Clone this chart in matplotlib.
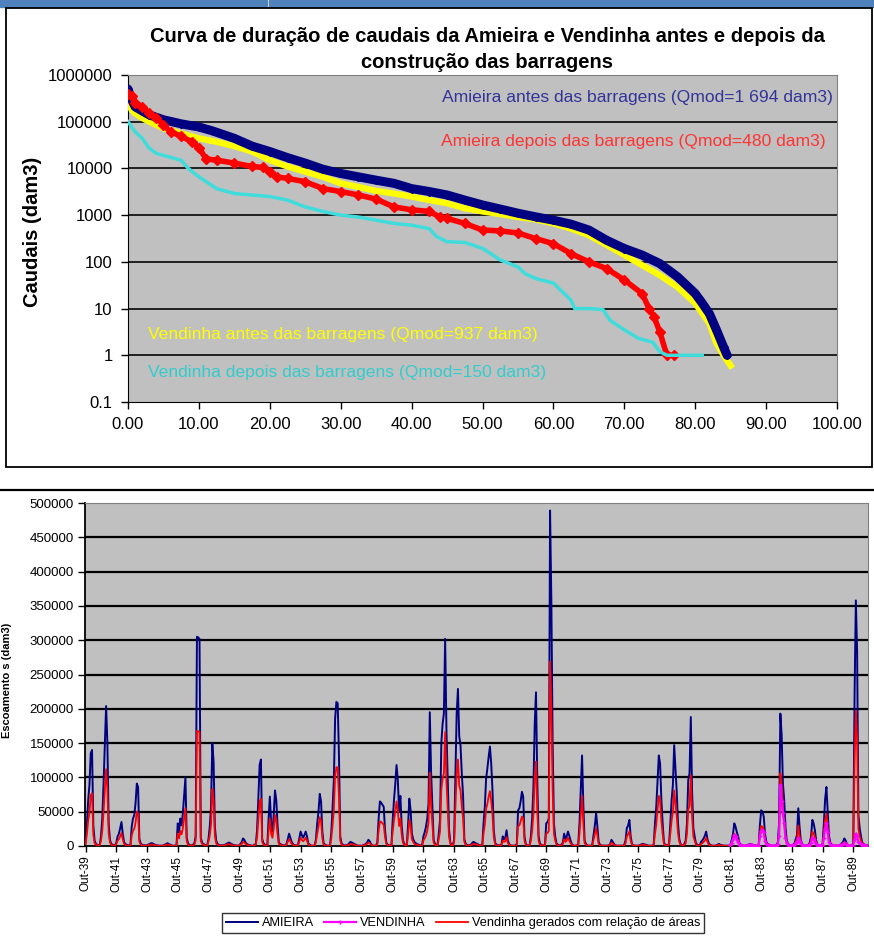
import numpy as np
import matplotlib.pyplot as plt
from matplotlib.patches import Rectangle
from matplotlib.lines import Line2D

plt.rcParams['font.family'] = ['Liberation Sans', 'DejaVu Sans']

W, H = 874, 936

# ---- curva de duracao (x em % do tempo, caudais em dam3) ----
amieira_antes_x = [0, 0.5, 1, 2, 3, 5, 7.5, 10, 12, 15, 17.5, 20, 22.5, 25, 27.5, 30, 32.5, 35, 37.5, 40,
                   42.5, 45, 47.5, 50, 52.5, 55, 57.5, 60, 62.5, 65, 67.5, 70, 72.5, 75, 77.5, 80, 81, 82, 83, 84, 84.5]
amieira_antes_q = [500000, 300000, 210000, 170000, 140000, 110000, 90000, 77000, 63000, 44000, 30000, 23000,
                   17000, 13000, 9600, 7800, 6600, 5600, 4800, 3700, 3200, 2700, 2100, 1650, 1350, 1100, 920,
                   780, 640, 480, 290, 193, 140, 92, 48, 21, 13, 7.8, 3.5, 1.5, 1.0]

amieira_depois_x = [0, 0.5, 1, 2, 3, 4, 5, 6, 7.5, 9, 10, 11, 12.5, 15, 17.5, 19, 20, 21, 22.5, 25, 27.5, 30,
                    32.5, 35, 37.5, 40, 42.5, 44, 45, 47.5, 50, 52.5, 55, 57.5, 60, 62.5, 65, 67.5, 70, 72.5,
                    73.5, 74.2, 75, 76, 77]
amieira_depois_q = [400000, 350000, 250000, 210000, 150000, 120000, 85000, 61000, 49000, 37000, 28000, 16000,
                    15000, 13000, 11000, 10500, 8500, 6600, 6100, 5200, 3700, 3200, 2700, 2200, 1500, 1300,
                    1200, 910, 850, 665, 480, 460, 415, 315, 245, 150, 100, 72, 41, 21, 10, 6.6, 3.2, 1, 1]

vendinha_antes_x = [0, 0.5, 1, 2, 3, 5, 7.5, 10, 12.5, 15, 17.5, 20, 22.5, 25, 27.5, 30, 32.5, 35, 37.5, 40,
                    42.5, 45, 47.5, 50, 52.5, 55, 57.5, 60, 62.5, 65, 67.5, 70, 72.5, 75, 77.5, 80, 82, 83, 84, 85]
vendinha_antes_q = [250000, 180000, 150000, 120000, 100000, 72000, 56000, 44000, 37000, 30000, 23000, 15000,
                    11000, 8500, 6600, 4800, 4000, 3300, 2900, 2500, 2100, 1800, 1400, 1200, 1050, 910, 810,
                    665, 515, 370, 230, 140, 85, 52, 29, 13, 4.8, 1.8, 1.0, 0.6]

vendinha_depois_x = [0, 1, 2, 3, 4, 5, 7.5, 8.5, 10, 12.5, 15, 17.5, 20, 22.5, 25, 27.5, 30, 32.5, 35, 37.5,
                     40, 42.5, 43.5, 45, 47.5, 50, 52.5, 55, 56, 57.5, 60, 61, 62.5, 63, 65, 67, 68, 70, 72,
                     74, 75, 76, 78, 80, 81]
vendinha_depois_q = [100000, 61000, 44000, 27000, 21000, 19000, 15000, 10000, 6600, 3700, 2900, 2700, 2500,
                     2100, 1500, 1200, 1000, 910, 780, 665, 610, 515, 350, 270, 260, 195, 110, 78, 56, 44, 35,
                     25, 15, 10, 10, 9.5, 5.6, 3.5, 2.3, 1.9, 1.2, 1, 1, 1, 1]

# ---- escoamentos mensais (mil dam3), ano hidrologico Out..Set, 1939/40 a 1989/90 ----
ano_inicial = 1939
amieira = [
    [5, 33, 67, 89, 135, 140, 30, 8, 3, 2, 1, 1],
    [14, 40, 91, 147, 204, 150, 33, 9, 3, 2, 1, 1],
    [5, 14, 18, 26, 35, 18, 6, 3, 2, 1, 1, 1],
    [28, 40, 45, 62, 91, 86, 10, 4, 2, 1, 1, 1],
    [1, 2, 3, 4, 4, 3, 2, 1, 1, 0.5, 0.5, 0.5],
    [0.5, 1, 2, 3, 4, 3, 2, 1, 0.5, 0.5, 0.5, 0.5],
    [33, 20, 40, 30, 48, 74, 100, 12, 4, 2, 1, 1],
    [2, 4, 14, 305, 304, 302, 12, 5, 3, 2, 1, 1],
    [10, 28, 57, 150, 123, 28, 8, 3, 2, 1, 1, 1],
    [1, 2, 3, 4, 5, 4, 3, 2, 1, 1, 0.5, 0.5],
    [1, 3, 6, 11, 9, 5, 3, 2, 1, 1, 0.5, 0.5],
    [2, 3, 23, 72, 118, 126, 10, 4, 2, 1, 1, 40],
    [72, 33, 21, 45, 81, 67, 30, 5, 3, 2, 1, 1],
    [1, 3, 10, 18, 12, 6, 3, 1, 1, 0.5, 2, 11],
    [21, 16, 12, 16, 21, 14, 4, 2, 1, 0.5, 0.5, 0.5],
    [10, 33, 50, 76, 65, 21, 4, 2, 1, 0.5, 0.5, 0.5],
    [20, 55, 96, 186, 210, 208, 132, 14, 4, 2, 1, 1],
    [1, 2, 4, 6, 5, 4, 3, 2, 1, 0.5, 0.5, 0.5],
    [0.5, 1, 2, 3, 5, 9, 7, 3, 1, 0.5, 0.5, 0.5],
    [5, 40, 65, 63, 60, 57, 23, 5, 2, 1, 1, 0.5],
    [38, 67, 90, 118, 96, 52, 73, 30, 9, 3, 2, 1],
    [30, 69, 52, 18, 10, 6, 4, 3, 2, 1, 1, 1],
    [14, 20, 28, 40, 62, 195, 108, 57, 9, 3, 2, 1],
    [18, 38, 150, 178, 193, 302, 170, 96, 25, 5, 2, 1],
    [9, 103, 193, 229, 160, 147, 106, 74, 10, 3, 2, 1],
    [1, 2, 4, 6, 5, 4, 3, 2, 1, 1, 0.5, 33],
    [57, 98, 113, 130, 145, 120, 81, 23, 5, 2, 1, 1],
    [1, 2, 14, 10, 12, 23, 8, 3, 1, 0.5, 0.5, 0.5],
    [1, 3, 52, 55, 65, 79, 72, 14, 3, 1, 0.5, 0.5],
    [14, 40, 86, 178, 224, 96, 15, 4, 2, 1, 1, 1],
    [33, 35, 40, 489, 358, 150, 33, 14, 4, 2, 1, 1],
    [2, 5, 18, 10, 14, 21, 15, 8, 3, 1, 0.5, 0.5],
    [1, 2, 33, 81, 132, 60, 8, 3, 1, 0.5, 0.5, 0.5],
    [2, 16, 30, 48, 28, 6, 2, 1, 0.5, 0.5, 0.5, 0.5],
    [0.5, 1, 3, 9, 6, 3, 1, 0.5, 0.5, 0.5, 0.5, 0.5],
    [0.5, 2, 8, 26, 30, 38, 14, 3, 1, 0.5, 0.5, 0.5],
    [0.5, 1, 2, 3, 3, 2, 2, 1, 0.5, 0.5, 0.5, 0.5],
    [2, 33, 57, 96, 132, 120, 67, 33, 5, 2, 1, 1],
    [3, 33, 67, 89, 147, 113, 79, 33, 10, 3, 1, 1],
    [3, 8, 33, 96, 106, 188, 79, 26, 14, 4, 2, 1],
    [1, 6, 8, 11, 15, 21, 10, 4, 2, 1, 0.5, 0.5],
    [0.5, 1, 2, 3, 2, 1, 1, 0.5, 0.5, 0.5, 0.5, 0.5],
    [2, 9, 18, 33, 28, 20, 14, 4, 2, 1, 0.5, 0.5],
    [0.5, 1, 2, 3, 3, 2, 1, 1, 0.5, 0.5, 0.5, 30],
    [52, 50, 43, 18, 6, 3, 2, 1, 0.5, 0.5, 0.5, 0.5],
    [2, 5, 33, 193, 162, 91, 67, 28, 8, 3, 1, 1],
    [1, 2, 4, 10, 16, 55, 28, 8, 3, 1, 0.5, 0.5],
    [1, 2, 5, 14, 38, 33, 23, 8, 2, 1, 0.5, 0.5],
    [3, 33, 69, 86, 50, 15, 5, 2, 1, 0.5, 0.5, 0.5],
    [0.5, 1, 2, 4, 6, 11, 8, 3, 1, 0.5, 0.5, 0.5],
    [5, 220, 358, 283, 45, 26, 14, 5, 3, 2, 1, 1],
]

vendinha_gerados = [
    [3, 18, 37, 49, 74, 77, 17, 4, 2, 1, 0.5, 0.5],
    [8, 22, 50, 81, 112, 83, 18, 5, 2, 1, 0.5, 0.5],
    [3, 8, 10, 14, 19, 10, 3, 2, 1, 0.5, 0.5, 0.5],
    [15, 22, 25, 34, 50, 47, 6, 2, 1, 0.5, 0.5, 0.5],
    [0.5, 1, 2, 2, 2, 2, 1, 0.5, 0.5, 0.3, 0.3, 0.3],
    [0.3, 0.5, 1, 2, 2, 2, 1, 0.5, 0.3, 0.3, 0.3, 0.3],
    [18, 11, 22, 17, 26, 41, 55, 7, 2, 1, 0.5, 0.5],
    [1, 2, 8, 168, 167, 166, 7, 3, 2, 1, 0.5, 0.5],
    [6, 15, 31, 83, 68, 15, 4, 2, 1, 0.5, 0.5, 0.5],
    [0.5, 1, 2, 2, 3, 2, 2, 1, 0.5, 0.5, 0.3, 0.3],
    [0.5, 2, 3, 6, 5, 3, 2, 1, 0.5, 0.5, 0.3, 0.3],
    [1, 2, 13, 40, 65, 69, 6, 2, 1, 0.5, 0.5, 22],
    [40, 18, 12, 25, 45, 37, 17, 3, 2, 1, 0.5, 0.5],
    [0.5, 2, 6, 10, 7, 3, 2, 0.5, 0.5, 0.3, 1, 6],
    [12, 9, 7, 9, 12, 8, 2, 1, 0.5, 0.3, 0.3, 0.3],
    [6, 18, 28, 42, 36, 12, 2, 1, 0.5, 0.3, 0.3, 0.3],
    [11, 30, 53, 102, 115, 114, 73, 8, 2, 1, 0.5, 0.5],
    [0.5, 1, 2, 3, 3, 2, 2, 1, 0.5, 0.3, 0.3, 0.3],
    [0.3, 0.5, 1, 2, 3, 5, 4, 2, 0.5, 0.3, 0.3, 0.3],
    [3, 22, 36, 35, 33, 31, 13, 3, 1, 0.5, 0.5, 0.3],
    [21, 37, 50, 65, 53, 29, 40, 17, 5, 2, 1, 0.5],
    [17, 38, 29, 10, 6, 3, 2, 2, 1, 0.5, 0.5, 0.5],
    [8, 11, 15, 22, 34, 107, 59, 31, 5, 2, 1, 0.5],
    [10, 21, 83, 98, 106, 166, 94, 53, 14, 3, 1, 0.5],
    [5, 57, 106, 126, 88, 81, 58, 41, 6, 2, 1, 0.5],
    [0.5, 1, 2, 3, 3, 2, 2, 1, 0.5, 0.5, 0.3, 18],
    [31, 54, 62, 72, 80, 66, 45, 13, 3, 1, 0.5, 0.5],
    [0.5, 1, 8, 6, 7, 13, 4, 2, 0.5, 0.3, 0.3, 0.3],
    [0.5, 2, 29, 30, 36, 43, 40, 8, 2, 0.5, 0.3, 0.3],
    [8, 22, 47, 98, 123, 53, 8, 2, 1, 0.5, 0.5, 0.5],
    [18, 19, 22, 269, 197, 83, 18, 8, 2, 1, 0.5, 0.5],
    [1, 3, 10, 6, 8, 12, 8, 4, 2, 0.5, 0.3, 0.3],
    [0.5, 1, 18, 45, 73, 33, 4, 2, 0.5, 0.3, 0.3, 0.3],
    [1, 9, 17, 26, 15, 3, 1, 0.5, 0.3, 0.3, 0.3, 0.3],
    [0.3, 0.5, 2, 5, 3, 2, 0.5, 0.3, 0.3, 0.3, 0.3, 0.3],
    [0.3, 1, 4, 14, 17, 21, 8, 2, 0.5, 0.3, 0.3, 0.3],
    [0.3, 0.5, 1, 2, 2, 1, 1, 0.5, 0.3, 0.3, 0.3, 0.3],
    [1, 18, 31, 53, 73, 66, 37, 18, 3, 1, 0.5, 0.5],
    [2, 18, 37, 49, 81, 62, 43, 18, 6, 2, 0.5, 0.5],
    [2, 4, 18, 53, 58, 103, 43, 14, 8, 2, 1, 0.5],
    [0.5, 3, 4, 6, 8, 12, 6, 2, 1, 0.5, 0.3, 0.3],
    [0.3, 0.5, 1, 2, 1, 0.5, 0.5, 0.3, 0.3, 0.3, 0.3, 0.3],
    [1, 5, 10, 18, 15, 11, 8, 2, 1, 0.5, 0.3, 0.3],
    [0.3, 0.5, 1, 2, 2, 1, 0.5, 0.5, 0.3, 0.3, 0.3, 17],
    [29, 28, 24, 10, 3, 2, 1, 0.5, 0.3, 0.3, 0.3, 0.3],
    [1, 3, 18, 106, 89, 50, 37, 15, 4, 2, 0.5, 0.5],
    [0.5, 1, 2, 6, 9, 30, 15, 4, 2, 0.5, 0.3, 0.3],
    [0.5, 1, 3, 8, 21, 18, 13, 4, 1, 0.5, 0.3, 0.3],
    [2, 18, 38, 47, 28, 8, 3, 1, 0.5, 0.3, 0.3, 0.3],
    [0.3, 0.5, 1, 2, 3, 6, 4, 2, 0.5, 0.3, 0.3, 0.3],
    [3, 121, 197, 156, 25, 14, 8, 3, 2, 1, 0.5, 0.5],
]

# registos observados na Vendinha, a partir de Out-81
vendinha_inicio = 1981
vendinha_obs = [
    [1, 5, 10, 16, 14, 9, 6, 2, 1, 0.5, 0.3, 0.3],
    [0.3, 0.5, 1, 2, 2, 1, 0.5, 0.5, 0.3, 0.3, 0.3, 14],
    [22, 24, 20, 8, 3, 2, 1, 0.5, 0.3, 0.3, 0.3, 0.3],
    [1, 3, 15, 89, 65, 48, 33, 12, 4, 2, 0.5, 0.5],
    [0.5, 1, 2, 4, 6, 12, 8, 3, 1, 0.5, 0.3, 0.3],
    [0.5, 1, 2, 5, 12, 10, 6, 3, 1, 0.5, 0.3, 0.3],
    [1, 12, 25, 33, 20, 6, 2, 1, 0.5, 0.3, 0.3, 0.3],
    [0.3, 0.5, 1, 2, 3, 4, 3, 1, 0.5, 0.3, 0.3, 0.3],
    [2, 10, 18, 14, 6, 4, 3, 2, 1, 0.5, 0.5, 0.5],
]

rotulos_anos = [1939, 1941, 1943, 1945, 1947, 1949, 1951, 1953, 1955, 1957, 1959, 1961, 1963,
                1965, 1967, 1969, 1971, 1973, 1975, 1977, 1979, 1981, 1983, 1985, 1987, 1989]


def fx(x):
    return x / W


def fy(y):
    return 1 - y / H


fig = plt.figure(figsize=(W / 100, H / 100), dpi=100)
fig.patch.set_facecolor('white')

# moldura / barra azul do documento
fig.add_artist(Rectangle((0, fy(7)), fx(267), 7 / H, color='#4f81bd', transform=fig.transFigure))
fig.add_artist(Rectangle((fx(269), fy(7)), fx(874 - 269), 7 / H, color='#4f81bd', transform=fig.transFigure))
fig.add_artist(Rectangle((fx(6), fy(467)), fx(866), (467 - 8) / H, fill=False, ec='black', lw=1.3,
                         transform=fig.transFigure))
fig.add_artist(Line2D([0, 1], [fy(490), fy(490)], color='black', lw=1.6, transform=fig.transFigure))

# ---------------- grafico de cima ----------------
ax1 = fig.add_axes([fx(128), fy(402), (837 - 128) / W, (402 - 75) / H])
ax1.set_facecolor('#c0c0c0')
ax1.set_yscale('log')
ax1.set_xlim(0, 100)
ax1.set_ylim(0.1, 1e6)
decadas = [0.1, 1, 10, 100, 1000, 10000, 100000, 1000000]
ax1.set_yticks(decadas)
ax1.set_yticklabels(['0.1', '1', '10', '100', '1000', '10000', '100000', '1000000'])
ax1.minorticks_off()
ax1.set_xticks(range(0, 101, 10))
ax1.set_xticklabels(['%.2f' % v for v in range(0, 101, 10)])
ax1.tick_params(labelsize=12, length=5, width=1, direction='out', pad=6)
for d in decadas[1:-1]:
    ax1.axhline(d, color='#202020', lw=1.4, zorder=1)
for s in ['top', 'right']:
    ax1.spines[s].set_color('#808080')
for s in ['left', 'bottom']:
    ax1.spines[s].set_color('black')

ax1.plot(vendinha_antes_x, vendinha_antes_q, color='#ffff00', lw=4.5, zorder=3,
         solid_joinstyle='round')
ax1.plot(amieira_antes_x, amieira_antes_q, color='#000080', lw=6.5, marker='D', ms=4.5, zorder=4,
         solid_joinstyle='round', solid_capstyle='round')
ax1.plot(amieira_depois_x, amieira_depois_q, color='#ff0000', lw=4, marker='D', ms=5, zorder=5,
         solid_joinstyle='round')
ax1.plot(vendinha_depois_x, vendinha_depois_q, color='#40dcdc', lw=2.5, zorder=5)

ax1.text(0.994, 0.93, 'Amieira antes das barragens (Qmod=1 694 dam3)', color='#333399', fontsize=12.6,
         ha='right', va='center', transform=ax1.transAxes)
ax1.text(0.984, 0.798, 'Amieira depois das barragens (Qmod=480 dam3)', color='#ff3333', fontsize=12.6,
         ha='right', va='center', transform=ax1.transAxes)
ax1.text(0.028, 0.205, 'Vendinha antes das barragens (Qmod=937 dam3)', color='#ffff00', fontsize=12.6,
         ha='left', va='center', transform=ax1.transAxes)
ax1.text(0.028, 0.089, 'Vendinha depois das barragens (Qmod=150 dam3)', color='#33cccc', fontsize=12.6,
         ha='left', va='center', transform=ax1.transAxes)

fig.text(fx(487), fy(37), 'Curva de duração de caudais da Amieira e Vendinha antes e depois da',
         ha='center', va='center', fontsize=14.5, fontweight='bold')
fig.text(fx(487), fy(62), 'construção das barragens', ha='center', va='center', fontsize=14.5,
         fontweight='bold')
fig.text(fx(33), fy(232), 'Caudais (dam3)', rotation=90, ha='center', va='center', fontsize=14.5,
         fontweight='bold')

# ---------------- grafico de baixo ----------------
ames = np.array(amieira).ravel() * 1000
gerados = np.array(vendinha_gerados).ravel() * 1000
meses = np.arange(len(ames))
vend = np.full(len(ames), np.nan)
i0 = (vendinha_inicio - ano_inicial) * 12
vend[i0:] = np.array(vendinha_obs).ravel() * 1000

ax2 = fig.add_axes([fx(85), fy(846), (868 - 85) / W, (846 - 503) / H])
ax2.set_facecolor('#c0c0c0')
ax2.set_xlim(-0.5, len(ames) - 0.5)
ax2.set_ylim(0, 500000)
ax2.set_yticks(range(0, 500001, 50000))
ax2.set_yticklabels([str(v) for v in range(0, 500001, 50000)])
for v in range(50000, 500000, 50000):
    ax2.axhline(v, color='black', lw=1.6, zorder=1)
pos = [(a - ano_inicial) * 12 for a in rotulos_anos]
ax2.set_xticks(pos)
ax2.set_xticklabels(['Out-%02d' % (a % 100) for a in rotulos_anos], rotation=90)
ax2.tick_params(axis='y', labelsize=9.5, length=5, width=1, pad=3)
ax2.tick_params(axis='x', labelsize=8.5, length=4, width=1, pad=3)
for s in ['top', 'right']:
    ax2.spines[s].set_color('#808080')
for s in ['left', 'bottom']:
    ax2.spines[s].set_color('black')
    ax2.spines[s].set_linewidth(1.3)

l1, = ax2.plot(meses, ames, color='#000080', lw=1.4, zorder=3)
l3, = ax2.plot(meses, gerados, color='#ff0000', lw=1.3, zorder=4)
l2, = ax2.plot(meses, vend, color='#ff00ff', lw=1.6, marker='+', ms=3, zorder=5)

fig.text(fx(7.5), fy(680), 'Escoamento s (dam3)', rotation=90, ha='center', va='center', fontsize=8,
         fontweight='bold')

leg = fig.legend([l1, l2, l3], ['AMIEIRA', 'VENDINHA', 'Vendinha gerados com relação de áreas'],
                 loc='center', bbox_to_anchor=(fx(463), fy(923)), ncol=3, fontsize=9.2, frameon=True,
                 fancybox=False, edgecolor='black', handlelength=2.5, columnspacing=0.8,
                 borderpad=0.3, handletextpad=0.3)
leg.get_frame().set_linewidth(1.0)

fig.savefig('out.png', dpi=100)
